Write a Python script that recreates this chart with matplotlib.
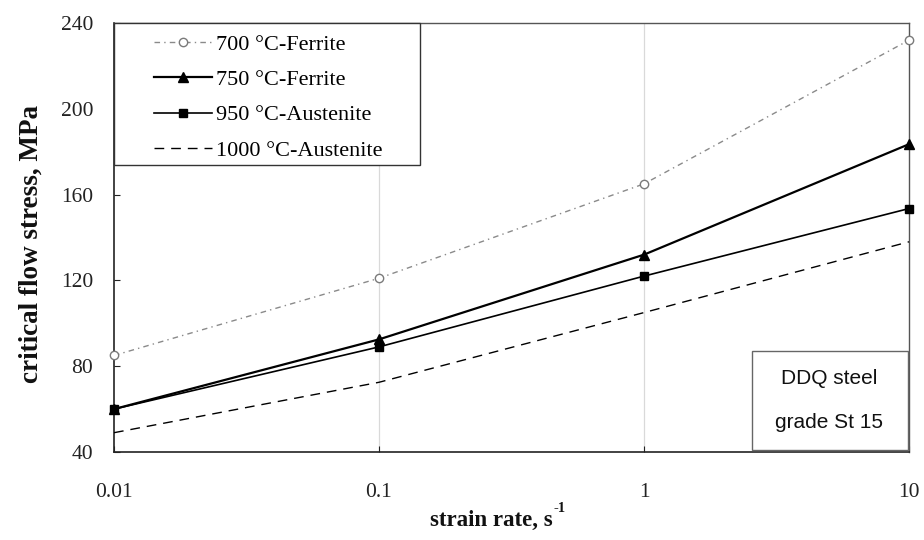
import matplotlib
matplotlib.use("Agg")
import matplotlib.pyplot as plt
from matplotlib.patches import Rectangle

# strain rates (1/s)
strain_rate = [0.01, 0.1, 1, 10]

# critical flow stress, MPa
stress_700_ferrite = [85, 121, 165, 232]
stress_750_ferrite = [60, 92.5, 132, 183.5]
stress_950_austenite = [60, 89, 122, 153.5]
stress_1000_austenite = [49, 72.5, 105, 138]

labels = ["700 °C-Ferrite", "750 °C-Ferrite", "950 °C-Austenite", "1000 °C-Austenite"]
x_ticks = [0.01, 0.1, 1, 10]
x_tick_labels = ["0.01", "0.1", "1", "10"]
y_ticks = [40, 80, 120, 160, 200, 240]

serif = ["Liberation Serif", "DejaVu Serif"]
sans = ["Liberation Sans", "DejaVu Sans"]

W, H = 924, 540
fig = plt.figure(figsize=(W / 100, H / 100), dpi=100)
ax = fig.add_axes([114 / W, 1 - 452 / H, (909 - 114) / W, (452 - 23) / H])

ax.set_xscale("log")
ax.set_xlim(0.01, 10)
ax.set_ylim(40, 240)

# light vertical guides at each interior decade
for xv in [0.1, 1]:
    ax.axvline(xv, color="#d9d9d9", lw=0.9, zorder=0)

ax.plot(strain_rate, stress_700_ferrite, color="#8a8a8a", lw=1.0,
        linestyle=(0, (4, 3, 1, 3)), marker="o", markersize=6,
        markerfacecolor="white", markeredgecolor="#7a7a7a", markeredgewidth=1.0,
        label=labels[0], clip_on=False, zorder=3)
ax.plot(strain_rate, stress_750_ferrite, color="black", lw=1.6,
        marker="^", markersize=7, label=labels[1], clip_on=False, zorder=4)
ax.plot(strain_rate, stress_950_austenite, color="black", lw=1.2,
        marker="s", markersize=6, label=labels[2], clip_on=False, zorder=5)
ax.plot(strain_rate, stress_1000_austenite, color="black", lw=1.0,
        linestyle=(0, (7, 5)), label=labels[3], clip_on=False, zorder=3)

ax.set_xticks(x_ticks)
ax.set_xticklabels(x_tick_labels)
ax.minorticks_off()
ax.set_yticks(y_ticks)

ax.tick_params(axis="x", direction="in", length=4, width=0.8, pad=22,
               labelsize=15.5, colors="#222222")
ax.tick_params(axis="y", direction="in", length=4, width=0.8, pad=15,
               labelsize=15.5, colors="#222222")
for lab in ax.get_xticklabels() + ax.get_yticklabels():
    lab.set_fontfamily(serif)

for side in ["left", "bottom"]:
    ax.spines[side].set_color("#222222")
    ax.spines[side].set_linewidth(1.2)
for side in ["top", "right"]:
    ax.spines[side].set_color("#555555")
    ax.spines[side].set_linewidth(1.0)

# legend frame in the upper-left corner, entries placed inside it
legend_frame = Rectangle((114 / W, 1 - 165 / H), (420 - 114) / W, (165 - 23) / H,
                         transform=fig.transFigure, facecolor="white",
                         edgecolor="#333333", lw=1.0, zorder=6, clip_on=False)
ax.add_artist(legend_frame)
leg = ax.legend(loc="upper left", bbox_to_anchor=(150 / W, 1 - 30 / H),
                bbox_transform=fig.transFigure, borderaxespad=0,
                frameon=False, prop={"family": serif, "size": 16},
                handlelength=2.6, handletextpad=0.15, labelspacing=0.66,
                borderpad=0.2)
leg.set_zorder(7)

# annotation box in the lower-right corner
box = Rectangle((752 / W, 1 - 450 / H), (908 - 752) / W, (450 - 351) / H,
                transform=fig.transFigure, facecolor="white",
                edgecolor="#666666", lw=1.0, zorder=6, clip_on=False)
ax.add_artist(box)
fig.text(829 / W, 1 - 379 / H, "DDQ steel", ha="center", va="center",
         fontsize=15, family=sans, color="#111111", zorder=7)
fig.text(829 / W, 1 - 423 / H, "grade St 15", ha="center", va="center",
         fontsize=15, family=sans, color="#111111", zorder=7)

# x-axis title with a hyphen-style superscript
fig.text(553 / W, 1 - 520 / H, "strain rate, s", ha="right",
         va="center", fontsize=16.5, fontweight="bold", family=serif,
         color="#111111")
fig.text(553 / W, 1 - 509 / H, "-1", ha="left", va="center", fontsize=10.5,
         fontweight="bold", family=serif, color="#111111")

fig.text(31 / W, 1 - 244 / H, "critical flow stress, MPa", ha="center",
         va="center", rotation=90, fontsize=19.5, fontweight="bold", family=serif,
         color="#111111")

fig.savefig("out.png", dpi=100, facecolor="white")
